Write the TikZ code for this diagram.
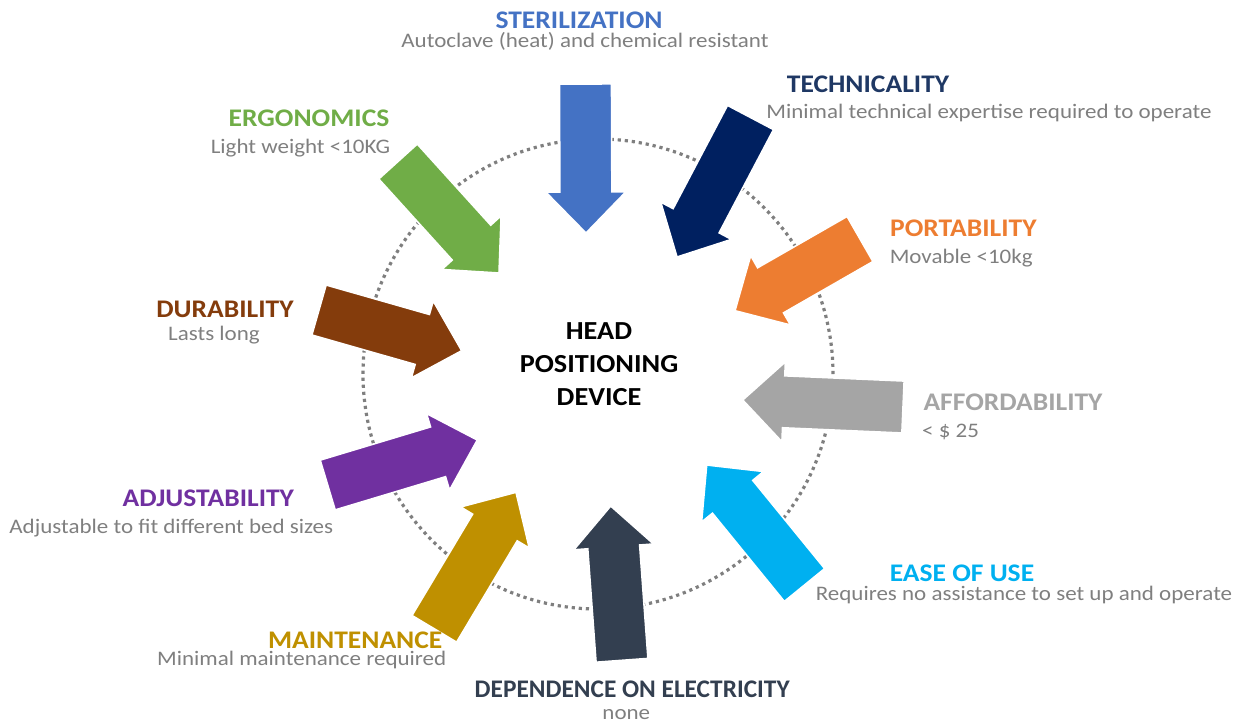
\documentclass[tikz,border=0pt]{standalone}
\usepackage{fontspec}
\setmainfont{Carlito}
\newfontfamily\ttlfont{Carlito}[FakeStretch=1.087]
\newfontfamily\subfont{Carlito}[FakeStretch=1.113]
\usetikzlibrary{calc}
\definecolor{cSter}{HTML}{4472C4}
\definecolor{cTechA}{HTML}{002060}
\definecolor{cTechT}{HTML}{1F3864}
\definecolor{cPort}{HTML}{ED7D31}
\definecolor{cAff}{HTML}{A5A5A5}
\definecolor{cEase}{HTML}{00B0F0}
\definecolor{cDep}{HTML}{333F50}
\definecolor{cMaint}{HTML}{BF9000}
\definecolor{cAdj}{HTML}{7030A0}
\definecolor{cDur}{HTML}{843C0C}
\definecolor{cErg}{HTML}{70AD47}
\definecolor{cSub}{HTML}{7F7F7F}
\definecolor{cRing}{HTML}{7F7F7F}
\newcommand\ahl{30.75pt}
\newcommand\ash{19.5pt}
\newcommand\ahh{30pt}
\tikzset{
  ttl/.style={font=\ttlfont\bfseries\fontsize{19}{22}\selectfont, inner sep=0pt, anchor=base},
  ttlnarrow/.style={font=\bfseries\fontsize{19}{22}\selectfont, inner sep=0pt, anchor=base},
  sub/.style={font=\subfont\fontsize{15.5}{18}\selectfont, text=cSub, inner sep=0pt, anchor=base},
  hub/.style={font=\ttlfont\bfseries\fontsize{19.5}{24.75}\selectfont, align=center, inner sep=0pt, anchor=base},
  barrow/.style={draw=white, line width=1.2pt, line join=miter},
  ring/.style={draw=cRing, line width=2.4pt, dash pattern=on 2.4pt off 2.9pt}
}
\newcommand\BlockArrow[3]{%
  \coordinate (#2-b) at ($(#3)!\ahl!(#2)$);
  \filldraw[barrow, fill=#1] ($(#2)!\ash!90:(#3)$) -- ($(#2-b)!\ash!90:(#3)$) -- ($(#2-b)!\ahh!90:(#3)$) -- (#3) -- ($(#2-b)!\ahh!-90:(#3)$) -- ($(#2-b)!\ash!-90:(#3)$) -- ($(#2)!\ash!-90:(#3)$) -- cycle;
}
\begin{document}
\begin{tikzpicture}[x=0.75pt,y=-0.75pt]
\useasboundingbox (0,0) rectangle (1242,722);
\coordinate (c) at (598,374);
\draw[ring] (c) circle [radius=176.25pt];
% arrow tails and tips
\coordinate (sterT) at (585.5,84);   \coordinate (sterH) at (586,233);
\coordinate (techT) at (750.5,117.5); \coordinate (techH) at (677,257);
\coordinate (portT) at (860,239);    \coordinate (portH) at (735,310.7);
\coordinate (affT) at (903,407);     \coordinate (affH) at (742.7,400);
\coordinate (easeT) at (804.5,585);  \coordinate (easeH) at (706.7,465);
\coordinate (depT) at (622,660.3);   \coordinate (depH) at (610.7,506);
\coordinate (maintT) at (434.3,628.8); \coordinate (maintH) at (516,492.3);
\coordinate (adjT) at (327.7,485);   \coordinate (adjH) at (477.3,440);
\coordinate (durT) at (319,310);     \coordinate (durH) at (461.7,350.7);
\coordinate (ergT) at (398,161.5);   \coordinate (ergH) at (499,273);
\BlockArrow{cSter}{sterT}{sterH}
\BlockArrow{cTechA}{techT}{techH}
\BlockArrow{cPort}{portT}{portH}
\BlockArrow{cAff}{affT}{affH}
\BlockArrow{cEase}{easeT}{easeH}
\BlockArrow{cDep}{depT}{depH}
\BlockArrow{cMaint}{maintT}{maintH}
\BlockArrow{cAdj}{adjT}{adjH}
\BlockArrow{cDur}{durT}{durH}
\BlockArrow{cErg}{ergT}{ergH}
% centre
\node[hub] (hpd) at (599,405) {HEAD\\POSITIONING\\DEVICE};
% labels
\node[ttl, text=cSter] (sterL) at (579,28.3) {STERILIZATION};
\node[sub] (sterS) at (585,47.3) {Autoclave (heat) and chemical resistant};
\node[ttl, text=cTechT] (techL) at (868,92.3) {TECHNICALITY};
\node[sub] (techS) at (989,118.3) {Minimal technical expertise required to operate};
\node[ttl, text=cErg] (ergL) at (309,126) {ERGONOMICS};
\node[sub] (ergS) at (300.5,153.3) {Light weight <10KG};
\node[ttl, text=cPort] (portL) at (963.4,236) {PORTABILITY};
\node[sub] (portS) at (961.2,263.3) {Movable <10kg};
\node[ttl, text=cDur] (durL) at (225,317.3) {DURABILITY};
\node[sub] (durS) at (214,340) {Lasts long};
\node[ttl, text=cAff] (affL) at (1013,410) {AFFORDABILITY};
\node[sub] (affS) at (950.5,437.3) {< \$ 25};
\node[ttl, text=cAdj] (adjL) at (208.3,506.7) {ADJUSTABILITY};
\node[sub] (adjS) at (171.3,533.3) {Adjustable to fit different bed sizes};
\node[ttl, text=cEase] (easeL) at (962,581) {EASE OF USE};
\node[sub] (easeS) at (1024,600) {Requires no assistance to set up and operate};
\node[ttl, text=cMaint] (maintL) at (355.2,648.3) {MAINTENANCE};
\node[sub] (maintS) at (301.7,665) {Minimal maintenance required};
\node[ttlnarrow, text=cDep] (depL) at (632.2,697.7) {DEPENDENCE ON ELECTRICITY};
\node[sub] (depS) at (626.3,719.3) {none};
\end{tikzpicture}
\end{document}
